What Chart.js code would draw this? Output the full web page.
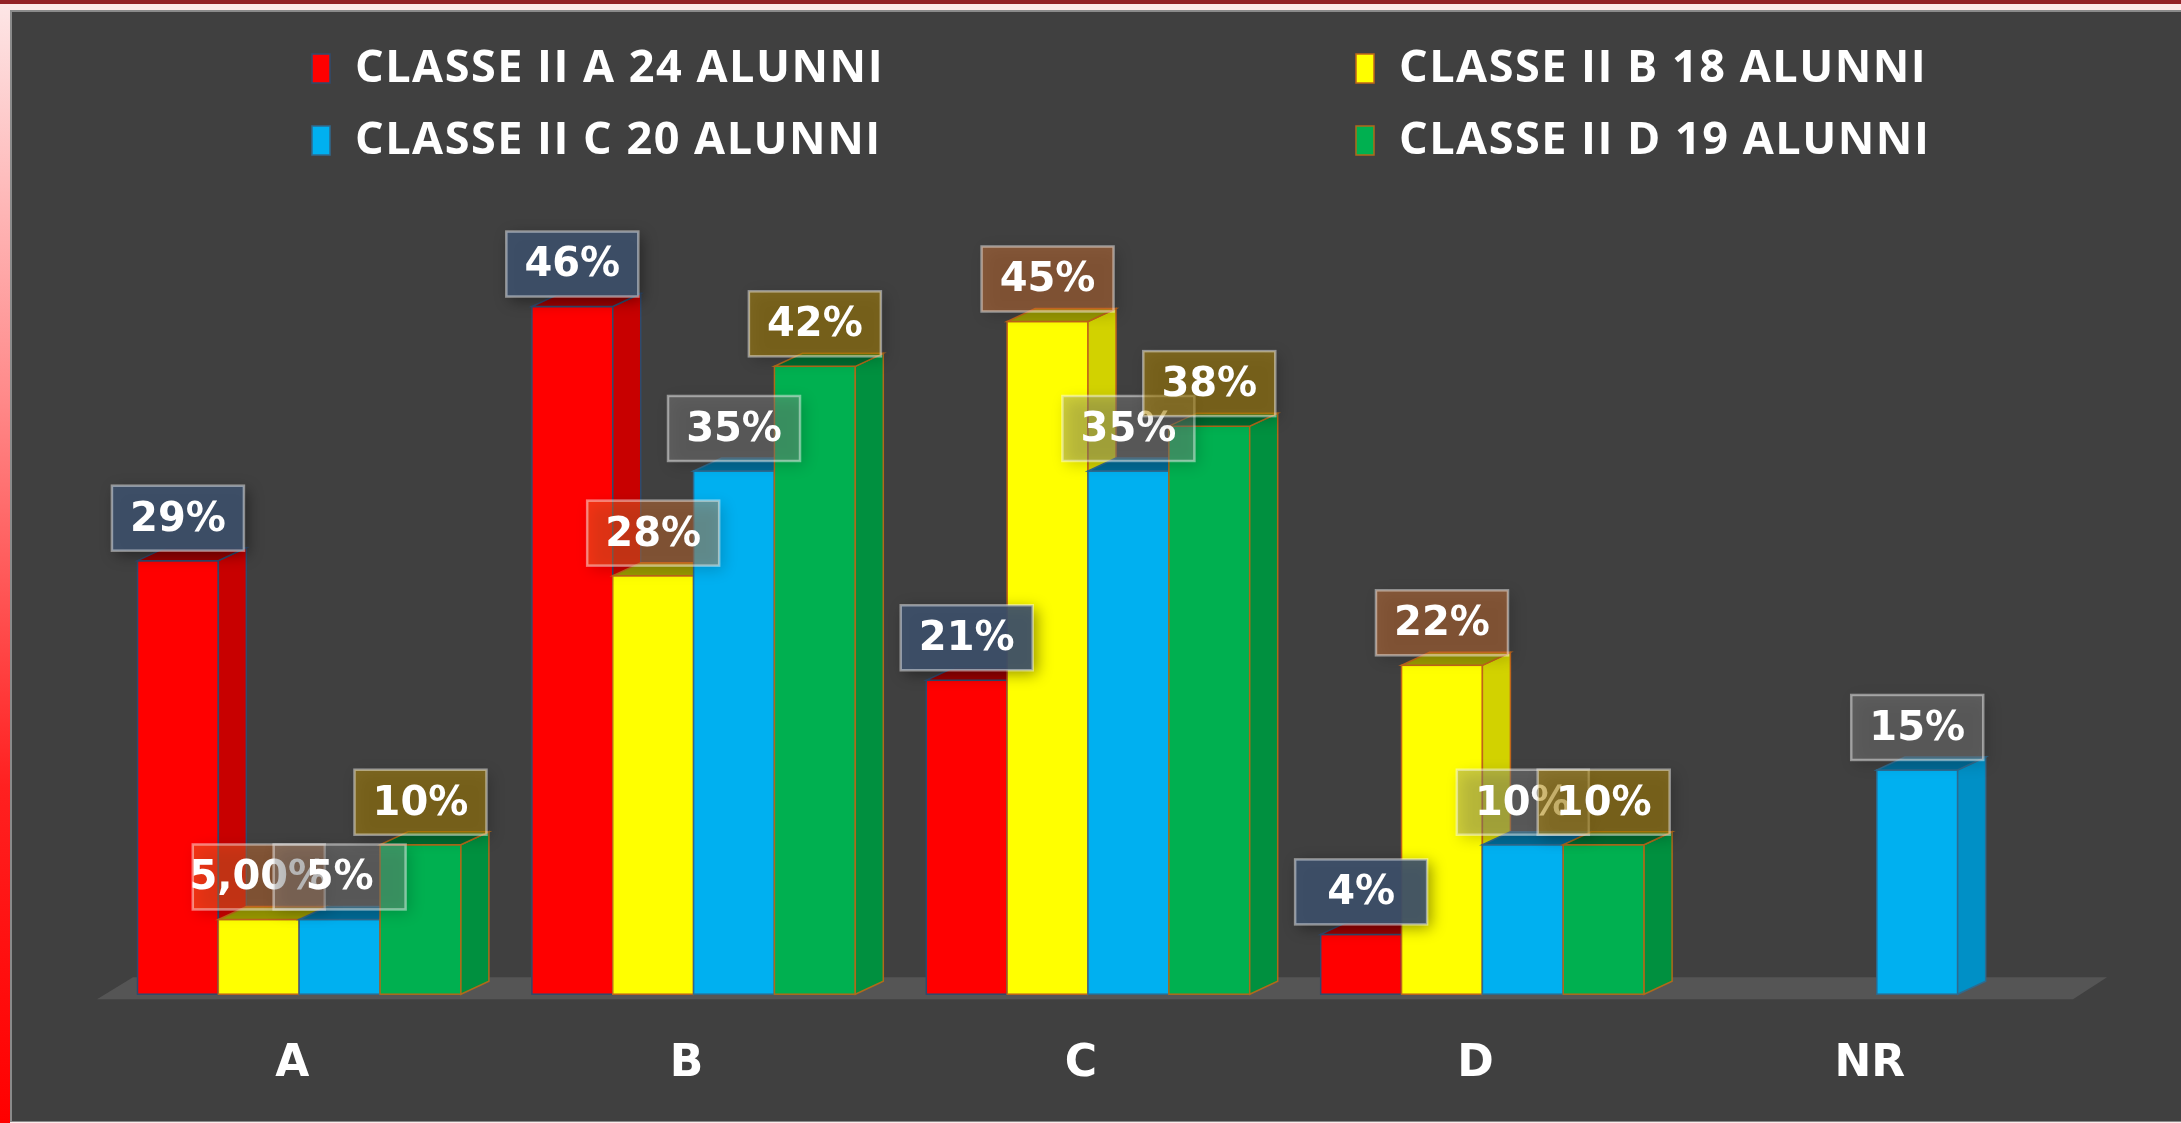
<!DOCTYPE html>
<html>
<head>
<meta charset="utf-8">
<title>Classi II - risultati</title>
<script src="https://cdn.jsdelivr.net/npm/chart.js@4.4.1/dist/chart.umd.min.js"></script>
<style>
  html, body { margin: 0; padding: 0; width: 2181px; height: 1123px; overflow: hidden; }
  body { position: relative; background: #fdeaea; }
  #topBar { position: absolute; left: 0; top: 0; width: 100%; height: 4px; background: #932126; }
  #leftBar {
    position: absolute; left: 0; top: 4px; bottom: 0; width: 10px;
    background: linear-gradient(to bottom, #fde6e6 0%, #ff8a8a 35%, #ff2020 70%, #ff0000 100%);
  }
  #panel {
    position: absolute; left: 10px; top: 10px; right: 0; bottom: 1px;
    background: #404040;
    border-left: 2px solid #8a8a8a; border-top: 2px solid #8a8a8a; border-bottom: 1px solid #8a8a8a;
  }
  #wrap { position: absolute; left: 0; top: 0; width: 2181px; height: 1123px; }
</style>
</head>
<body>
<div id="topBar"></div>
<div id="leftBar"></div>
<div id="panel"></div>
<div id="wrap"><canvas id="chart"></canvas></div>

<script>
// ---------------------- DATA ------------------------
const categories = ["A", "B", "C", "D", "NR"];
const seriesNames = [
  "CLASSE II A 24 ALUNNI",
  "CLASSE II B 18 ALUNNI",
  "CLASSE II C 20 ALUNNI",
  "CLASSE II D 19 ALUNNI",
];
const classeA = [29, 46, 21, 4, null];
const classeB = [5, 28, 45, 22, null];
const classeC = [5, 35, 35, 10, 15];
const classeD = [10, 42, 38, 10, null];
// the original prints the first II B label with two decimals
const classeBLabels = ["5,00%", null, null, null, null];

// ---------------------- STYLES ------------------------
const frontColors = ["#ff0000", "#ffff00", "#00b0f0", "#00b050"];
const sideColors = ["#c80000", "#d2d200", "#0090c6", "#00903f"];
const topColors = ["#9c0000", "#9a9a00", "#006a96", "#006b30"];
const edgeColors = ["#2f4b6e", "#c0651a", "#2f6a8e", "#b06a1a"];
const boxColors = [
  "rgba(62, 80, 106, 0.92)",
  "rgba(237, 125, 49, 0.40)",
  "rgba(140, 140, 140, 0.40)",
  "rgba(191, 144, 0, 0.48)",
];
const DX = 28, DY = 13;

const floorPlugin = {
  id: "floor",
  beforeDatasetsDraw(chart) {
    const { ctx, chartArea } = chart;
    const y0 = chart.scales.y.getPixelForValue(0);
    ctx.save();
    ctx.fillStyle = "#555555";
    ctx.beginPath();
    ctx.moveTo(chartArea.left - 5, y0 + 5);
    ctx.lineTo(chartArea.right - 1, y0 + 5);
    ctx.lineTo(chartArea.right + 33, y0 - 17);
    ctx.lineTo(chartArea.left + 31, y0 - 17);
    ctx.closePath();
    ctx.fill();
    ctx.restore();
  },
};

// Chart.js paints datasets last-to-first, so the boxes are painted again here
// first-to-last: front, side, top, so each bar hides the side of the one before
const bar3dPlugin = {
  id: "bar3d",
  afterDatasetsDraw(chart) {
    const { ctx } = chart;
    ctx.save();
    ctx.lineWidth = 1.5;
    chart.data.datasets.forEach((ds, i) => {
      ctx.strokeStyle = edgeColors[i];
      chart.getDatasetMeta(i).data.forEach((bar, j) => {
        if (ds.data[j] == null) return;
        const { x, y, base, width } = bar.getProps(["x", "y", "base", "width"], true);
        const x0 = x - width / 2, x1 = x + width / 2;
        // front
        ctx.fillStyle = frontColors[i];
        ctx.fillRect(x0, y, width, base - y);
        ctx.strokeRect(x0, y, width, base - y);
        // side
        ctx.fillStyle = sideColors[i];
        ctx.beginPath();
        ctx.moveTo(x1, y);
        ctx.lineTo(x1 + DX, y - DY);
        ctx.lineTo(x1 + DX, base - DY);
        ctx.lineTo(x1, base);
        ctx.closePath();
        ctx.fill();
        ctx.stroke();
        // top
        ctx.fillStyle = topColors[i];
        ctx.beginPath();
        ctx.moveTo(x0, y);
        ctx.lineTo(x1, y);
        ctx.lineTo(x1 + DX, y - DY);
        ctx.lineTo(x0 + DX, y - DY);
        ctx.closePath();
        ctx.fill();
        ctx.stroke();
      });
    });
    ctx.restore();
  },
};

const valueLabelPlugin = {
  id: "valueLabels",
  afterDatasetsDraw(chart) {
    const { ctx } = chart;
    const boxW = 132, boxH = 65;
    ctx.save();
    ctx.font = "bold 40px 'DejaVu Sans'";
    ctx.textAlign = "center";
    ctx.textBaseline = "middle";
    chart.data.datasets.forEach((ds, i) => {
      chart.getDatasetMeta(i).data.forEach((bar, j) => {
        const v = ds.data[j];
        if (v == null) return;
        const text = (i === 1 && classeBLabels[j]) ? classeBLabels[j] : v + "%";
        const { x, y } = bar.getProps(["x", "y"], true);
        const bx = x - boxW / 2, by = y - 10 - boxH;
        ctx.shadowColor = "rgba(0, 0, 0, 0.45)";
        ctx.shadowBlur = 14;
        ctx.shadowOffsetX = 4;
        ctx.shadowOffsetY = 4;
        ctx.fillStyle = boxColors[i];
        ctx.fillRect(bx, by, boxW, boxH);
        ctx.shadowColor = "transparent";
        ctx.lineWidth = 2.5;
        ctx.strokeStyle = "rgba(255, 255, 255, 0.45)";
        ctx.strokeRect(bx, by, boxW, boxH);
        ctx.fillStyle = "#ffffff";
        ctx.fillText(text, x, by + boxH / 2 + 2);
      });
    });
    ctx.restore();
  },
};

const legendPlugin = {
  id: "legend2x2",
  afterDraw(chart) {
    const { ctx } = chart;
    const colX = [312, 1356];
    const rowY = [68, 140];
    ctx.save();
    ctx.font = "bold 45px 'Open Sans'";
    ctx.letterSpacing = "1.5px";
    ctx.textAlign = "left";
    ctx.textBaseline = "middle";
    chart.data.datasets.forEach((ds, i) => {
      const bx = colX[i % 2], cy = rowY[Math.floor(i / 2)];
      ctx.fillStyle = frontColors[i];
      ctx.fillRect(bx, cy - 14, 18, 29);
      ctx.lineWidth = 1.5;
      ctx.strokeStyle = edgeColors[i];
      ctx.strokeRect(bx, cy - 14, 18, 29);
      ctx.fillStyle = "#ffffff";
      ctx.fillText(ds.label, bx + 43, cy + 1);
    });
    ctx.restore();
  },
};

// ---------------------- CHART ------------------------
const seriesData = [classeA, classeB, classeC, classeD];

new Chart(document.getElementById("chart"), {
  type: "bar",
  data: {
    labels: categories,
    datasets: seriesData.map((values, i) => ({
      label: seriesNames[i],
      data: values,
      backgroundColor: frontColors[i],
      borderColor: edgeColors[i],
      borderWidth: 1.5,
      borderSkipped: false,
      categoryPercentage: 0.82,
      barPercentage: 1.0,
    })),
  },
  options: {
    responsive: true,
    maintainAspectRatio: false,
    animation: false,
    layout: { padding: { left: 102, right: 107, top: 172, bottom: -12 } },
    plugins: {
      legend: { display: false },
      tooltip: { enabled: false },
    },
    scales: {
      x: {
        grid: { display: false, drawTicks: false },
        border: { display: false },
        ticks: {
          color: "#ffffff",
          padding: 44,
          labelOffset: -7,
          font: { family: "'DejaVu Sans'", size: 44, weight: "bold" },
        },
      },
      y: {
        display: false,
        min: 0,
        max: 55,
      },
    },
  },
  plugins: [floorPlugin, bar3dPlugin, valueLabelPlugin, legendPlugin],
});
</script>
</body>
</html>
